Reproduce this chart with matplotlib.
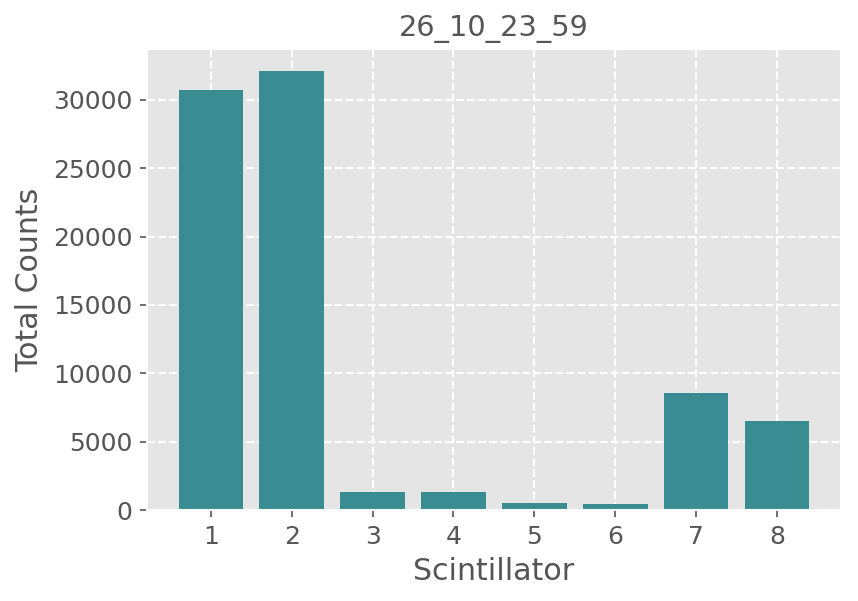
import matplotlib
matplotlib.use('Agg')
import matplotlib.pyplot as plt

scint = [1, 2, 3, 4, 5, 6, 7, 8]
counts = [30730, 32120, 1310, 1310, 510, 440, 8540, 6500]

plt.style.use('ggplot')
fig, ax = plt.subplots(figsize=(5.72, 4.007), dpi=150)
fig.subplots_adjust(left=0.1713, right=0.980, bottom=0.1514, top=0.9185)

ax.bar(scint, counts, color='#398c91')
ax.set_xticks(scint)
ax.grid(True, linestyle='--', color='white', linewidth=1)
ax.tick_params(labelsize=12)
ax.set_xlabel('Scintillator', fontsize=14.4)
ax.set_ylabel('Total Counts', fontsize=14.4)
ax.set_title('26_10_23_59', color='#555555', fontsize=13.8)

fig.savefig('out.png', dpi=150)
